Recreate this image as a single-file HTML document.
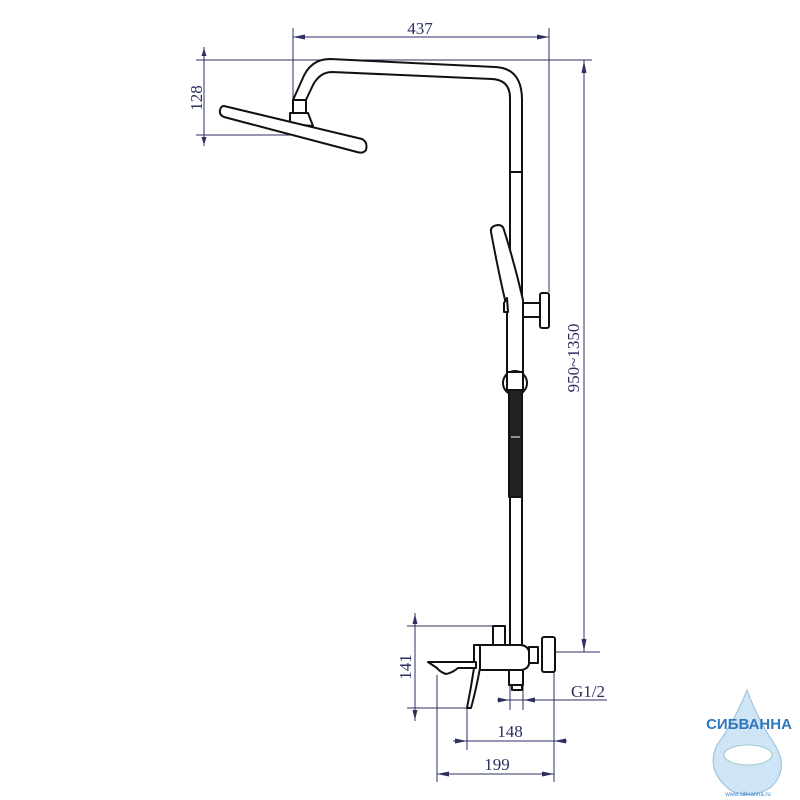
<!DOCTYPE html>
<html><head><meta charset="utf-8"><style>
html,body{margin:0;padding:0;background:#fff}
svg{display:block}
</style></head><body>
<svg width="800" height="800" viewBox="0 0 800 800" xmlns="http://www.w3.org/2000/svg">
<g stroke="#2b3060" stroke-width="1" fill="none">
 <line x1="293" y1="28" x2="293" y2="130"/>
 <line x1="549" y1="28" x2="549" y2="292"/>
 <line x1="293" y1="37" x2="549" y2="37"/>
 <line x1="196" y1="60" x2="592" y2="60"/>
 <line x1="196" y1="135" x2="293" y2="135"/>
 <line x1="204" y1="47" x2="204" y2="146"/>
 <line x1="584" y1="60" x2="584" y2="652"/>
 <line x1="555" y1="652" x2="600" y2="652"/>
 <line x1="407" y1="626" x2="496" y2="626"/>
 <line x1="407" y1="708" x2="470" y2="708"/>
 <line x1="415" y1="613" x2="415" y2="721"/>
 <line x1="510" y1="686" x2="510" y2="710"/>
 <line x1="523" y1="686" x2="523" y2="710"/>
 <line x1="497" y1="700" x2="607" y2="700"/>
 <line x1="467" y1="708" x2="467" y2="750"/>
 <line x1="554" y1="672" x2="554" y2="782"/>
 <line x1="453" y1="741" x2="567" y2="741"/>
 <line x1="437" y1="675" x2="437" y2="782"/>
 <line x1="437" y1="774" x2="554" y2="774"/>
</g>
<g fill="#2b3060">
 <polygon points="293,37 305,34.5 305,39.5"/>
 <polygon points="549,37 537,34.5 537,39.5"/>
 <polygon points="204,48 201.5,56 206.5,56"/>
 <polygon points="204,145 201.5,137 206.5,137"/>
 <polygon points="584,61 581.5,73 586.5,73"/>
 <polygon points="584,651 581.5,639 586.5,639"/>
 <polygon points="415,614 412.5,624 417.5,624"/>
 <polygon points="415,720 412.5,710 417.5,710"/>
 <polygon points="509,700 498,697.5 498,702.5"/>
 <polygon points="524,700 535,697.5 535,702.5"/>
 <polygon points="467,741 455,738.5 455,743.5"/>
 <polygon points="554,741 566,738.5 566,743.5"/>
 <polygon points="437,774 449,771.5 449,776.5"/>
 <polygon points="554,774 542,771.5 542,776.5"/>
</g>
<g fill="#2b3060" font-family="Liberation Serif, serif" font-size="17">
 <text x="420" y="34" text-anchor="middle">437</text>
 <text transform="translate(202,98) rotate(-90)" text-anchor="middle">128</text>
 <text transform="translate(579,358) rotate(-90)" text-anchor="middle">950~1350</text>
 <text transform="translate(411,667) rotate(-90)" text-anchor="middle">141</text>
 <text x="588" y="697" text-anchor="middle">G1/2</text>
 <text x="510" y="737" text-anchor="middle">148</text>
 <text x="497" y="770" text-anchor="middle">199</text>
</g>
<g stroke="#111" stroke-width="2" fill="#fff" stroke-linejoin="round">
 <!-- pole -->
 <rect x="510" y="172" width="12" height="475"/>
 <!-- arm -->
 <path d="M522,172 L522,100 Q522,68 495,67 L330,59 Q310,59 302,80 L293,100 L305,102 L313,85 Q320,72 332,72 L492,79 Q510,80 510,98 L510,172 Z"/>
 <rect x="293" y="100" width="13" height="13"/>
 <path d="M290,113 L308,113 L313,126 L290,124 Z"/>
 <path d="M224,106 L362,139 Q368,142 366,150 Q363,154 357,152 L224,117 Q219,115 220,110 Q221,106 224,106 Z"/>
 <!-- hand shower -->
 <path d="M491,232 Q490,226 498,225 Q503,225 504,230 Q515,265 523,300 L523,372 L507,372 L507,308 Q500,280 491,232 Z"/>
 <path d="M504,303 L507,298 L508,312 L504,312 Z"/>
 <rect x="523" y="303" width="17" height="14"/>
 <rect x="540" y="293" width="9" height="35" rx="2"/>
 <!-- clamp -->
 <circle cx="515" cy="383" r="12"/>
 <rect x="507" y="372" width="16" height="18"/>
 <rect x="509" y="390" width="13" height="107" fill="#222"/>
 <line x1="511" y1="437" x2="520" y2="437" stroke="#fff" stroke-width="1"/>
 <!-- valve -->
 <rect x="493" y="626" width="12" height="20"/>
 <path d="M480,645 L520,645 Q530,645 530,658 Q530,670 520,670 L480,670 Z"/>
 <rect x="509" y="670" width="14" height="15"/>
 <rect x="512" y="685" width="10" height="5"/>
 <rect x="529" y="647" width="9" height="16"/>
 <rect x="542" y="637" width="13" height="35" rx="2"/>
 <path d="M474,645 L480,645 L480,668 Q476,690 471,708 L467,708 Q471,688 474,668 Z"/>
 <path d="M428,662 L476,662 L476,668 L458,668 Q452,673 446,674 Q440,672 437,668 Z"/>
</g>
<g>
 <path d="M747,690 Q735,720 717,745 Q705,770 730,790 Q750,800 770,788 Q790,770 775,745 Q758,720 747,690 Z" fill="#cfe4f4" stroke="#8fbfe0"/>
 <ellipse cx="748" cy="755" rx="24" ry="10" fill="#fff" stroke="#9cc"/>
 <text x="749" y="729" text-anchor="middle" font-family="Liberation Sans, sans-serif" font-weight="bold" font-size="15" fill="#2f78bb">СИБВАННА</text>
 <text x="748" y="796" text-anchor="middle" font-family="Liberation Sans, sans-serif" font-size="6" fill="#3d86c6">www.sibvanna.ru</text>
</g>
</svg>
</body></html>
